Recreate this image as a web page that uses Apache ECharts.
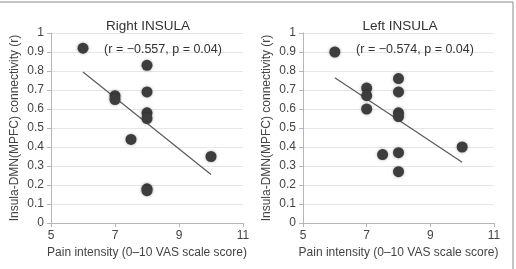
<!DOCTYPE html>
<html><head><meta charset="utf-8">
<script src="https://cdn.jsdelivr.net/npm/echarts@6/dist/echarts.min.js"></script>
<style>html,body{margin:0;padding:0;background:#fff}#c{width:516px;height:269px}</style>
</head><body><div id="c"></div>
<script>
// Right INSULA
const rightX = [6, 7, 7, 7.5, 8, 8, 8, 8, 8, 8, 10];
const rightY = [0.92, 0.67, 0.65, 0.44, 0.83, 0.69, 0.58, 0.55, 0.18, 0.17, 0.35];
const rightTrendX = [6, 10];
const rightTrendY = [0.795, 0.255];
// Left INSULA
const leftX = [6, 7, 7, 7, 7.5, 8, 8, 8, 8, 8, 8, 10];
const leftY = [0.90, 0.71, 0.67, 0.60, 0.36, 0.76, 0.69, 0.58, 0.56, 0.37, 0.27, 0.40];
const leftTrendX = [6, 10];
const leftTrendY = [0.765, 0.32];
const titles = ['Right INSULA', 'Left INSULA'];
const stats = ['(r = \u22120.557, p = 0.04)', '(r = \u22120.574, p = 0.04)'];
const xName = 'Pain intensity (0\u201310 VAS scale score)';
const yName = 'Insula-DMN(MPFC) connectivity (r)';

const zip = (a, b) => a.map((v, i) => [v, b[i]]);
const font = 'Liberation Sans, Arial, sans-serif';
const grids = [
  {left: 51, top: 33, width: 192, height: 190},
  {left: 303, top: 33, width: 191, height: 190}
];
function xAxis(i) {
  return {gridIndex: i, type: 'value', min: 5, max: 11, interval: 2,
    name: xName, nameLocation: 'middle', nameGap: 24,
    nameTextStyle: {color: '#444', fontSize: 12, fontFamily: font},
    axisLine: {lineStyle: {color: '#aab8c8'}},
    axisTick: {show: true, length: 4, lineStyle: {color: '#aab8c8'}},
    axisLabel: {color: '#444', fontSize: 12, fontFamily: font, margin: 7},
    splitLine: {show: false}};
}
function yAxis(i) {
  return {gridIndex: i, type: 'value', min: 0, max: 1, interval: 0.1,
    name: yName, nameLocation: 'middle', nameGap: 30,
    nameTextStyle: {color: '#444', fontSize: 12, fontFamily: font},
    axisLine: {show: true, lineStyle: {color: '#aab8c8'}},
    axisTick: {show: true, length: 4, lineStyle: {color: '#aab8c8'}},
    axisLabel: {color: '#444', fontSize: 12, fontFamily: font, margin: 7,
      formatter: v => String(Math.round(v * 10) / 10)},
    splitLine: {show: true, lineStyle: {color: '#e6e6e6', width: 1}}};
}
function scatter(i, xs, ys) {
  return {type: 'scatter', xAxisIndex: i, yAxisIndex: i, data: zip(xs, ys),
    symbolSize: 11, itemStyle: {color: '#3d3d3f', opacity: 1, shadowBlur: 3, shadowColor: 'rgba(0,0,0,0.35)'},
    silent: true, z: 3};
}
function trend(i, xs, ys) {
  return {type: 'line', xAxisIndex: i, yAxisIndex: i, data: zip(xs, ys),
    symbol: 'none', lineStyle: {color: '#5a5a5a', width: 1.2}, silent: true, z: 2};
}
const chart = echarts.init(document.getElementById('c'), null, {renderer: 'canvas'});
chart.setOption({
  animation: false,
  backgroundColor: '#fff',
  title: [
    {text: titles[0], left: 143, top: 14, textAlign: 'center', textStyle: {color: '#333', fontSize: 13.5, fontWeight: 'normal', fontFamily: font}},
    {text: titles[1], left: 395, top: 14, textAlign: 'center', textStyle: {color: '#333', fontSize: 13.5, fontWeight: 'normal', fontFamily: font}},
    {text: stats[0], left: 158, top: 38, textAlign: 'center', textStyle: {color: '#333', fontSize: 12.5, fontWeight: 'normal', fontFamily: font}},
    {text: stats[1], left: 410, top: 38, textAlign: 'center', textStyle: {color: '#333', fontSize: 12.5, fontWeight: 'normal', fontFamily: font}}
  ],
  graphic: [{type: 'rect', shape: {x: -5, y: 2, width: 518, height: 280}, style: {fill: 'none', stroke: '#8a8a8a', lineWidth: 1}, z: 100}],
  grid: grids,
  xAxis: [xAxis(0), xAxis(1)],
  yAxis: [yAxis(0), yAxis(1)],
  series: [
    trend(0, rightTrendX, rightTrendY), scatter(0, rightX, rightY),
    trend(1, leftTrendX, leftTrendY), scatter(1, leftX, leftY)
  ]
});
</script></body></html>
